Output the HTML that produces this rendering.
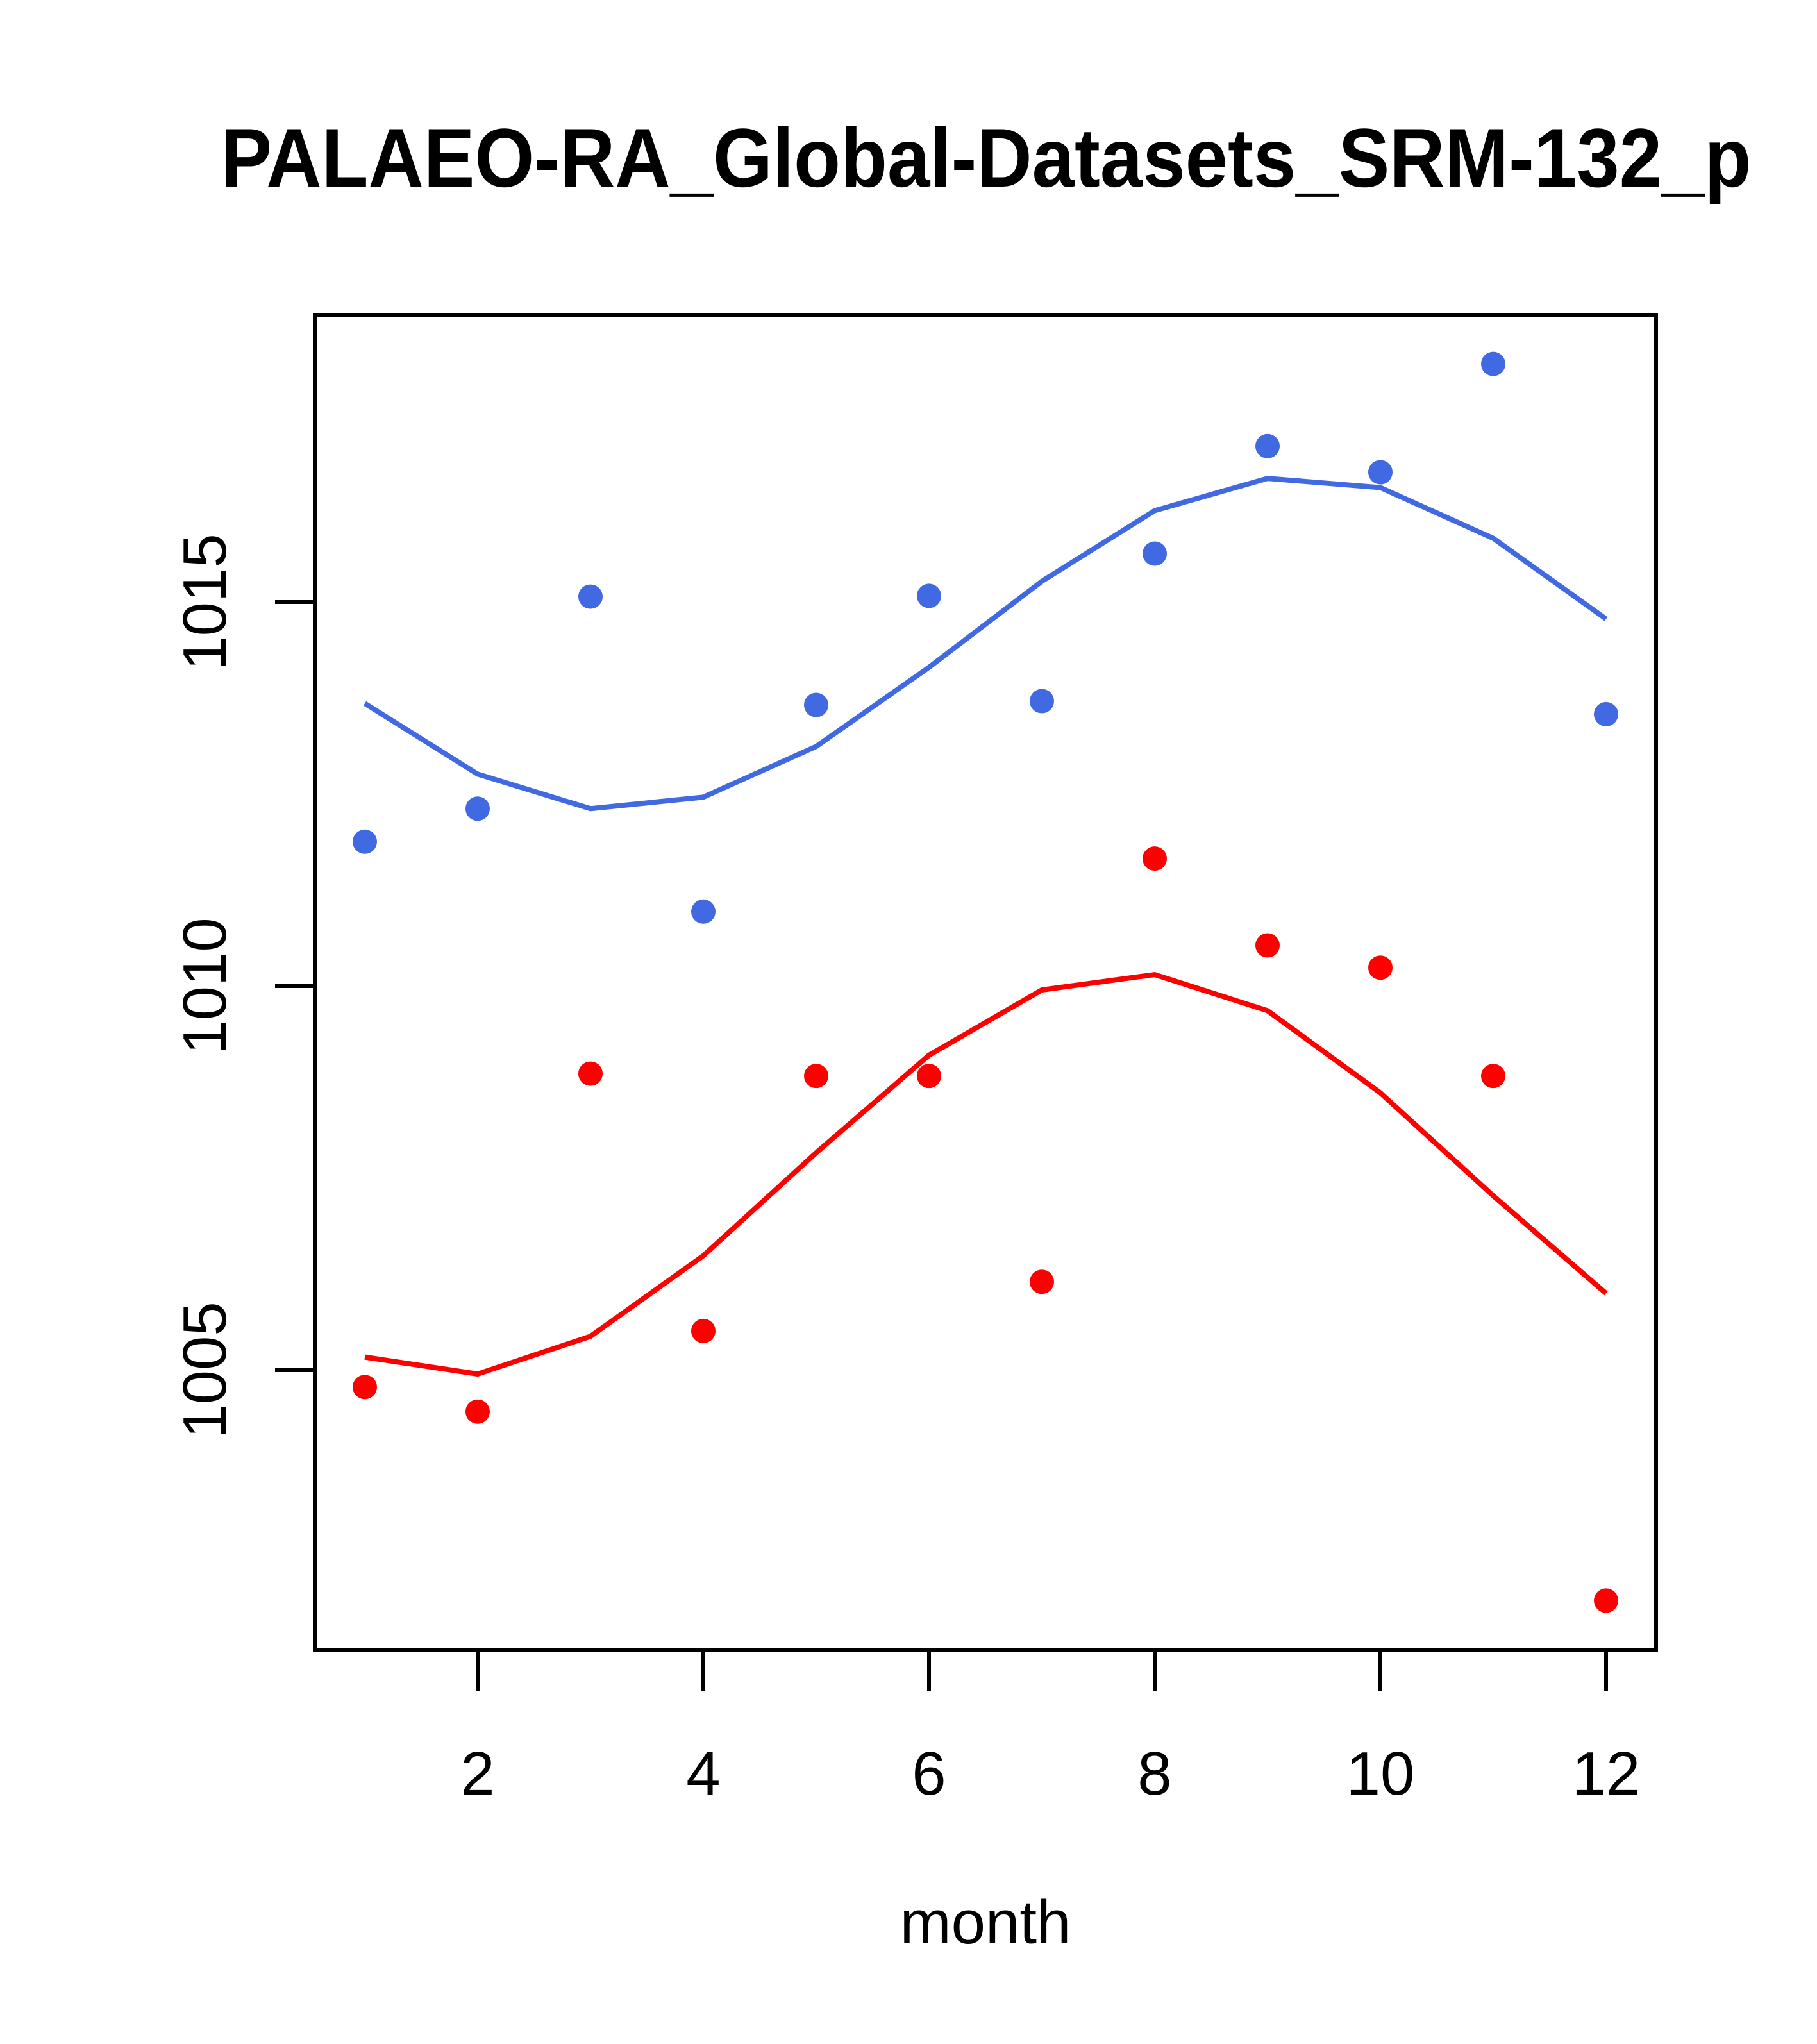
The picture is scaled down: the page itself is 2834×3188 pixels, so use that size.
<!DOCTYPE html>
<html><head><meta charset="utf-8"><style>html,body{margin:0;padding:0;background:#fff}svg{display:block}</style></head>
<body>
<svg id="chart" width="2834" height="3188" xmlns="http://www.w3.org/2000/svg" font-family="Liberation Sans, Arial, sans-serif">
<rect width="2834" height="3188" fill="#fff"/>
<text x="1538" y="291" text-anchor="middle" font-size="130" font-weight="bold" textLength="2387" lengthAdjust="spacingAndGlyphs">PALAEO-RA_Global-Datasets_SRM-132_p</text>
<rect x="491" y="491" width="2092" height="2083" fill="none" stroke="#000" stroke-width="6"/>
<g id="xaxis"></g>
<g id="yaxis"></g>
<text x="1537" y="3031" text-anchor="middle" font-size="96">month</text>
<g id="marks"></g>
</svg>
<script>
const months = [1,2,3,4,5,6,7,8,9,10,11,12];
const bluePoints = [1011.88,1012.31,1015.07,1010.97,1013.66,1015.08,1013.71,1015.63,1017.03,1016.69,1018.10,1013.54];
const blueLine = [1013.68,1012.76,1012.31,1012.46,1013.12,1014.15,1015.27,1016.19,1016.61,1016.49,1015.83,1014.78];
const redPoints = [1004.78,1004.46,1008.86,1005.51,1008.83,1008.83,1006.15,1011.66,1010.53,1010.24,1008.83,1002.00];
const redLine = [1005.17,1004.95,1005.44,1006.49,1007.83,1009.10,1009.95,1010.15,1009.68,1008.61,1007.27,1006.00];
const xTicks = [2,4,6,8,10,12];
const yTicks = [1005,1010,1015];

const NS = "http://www.w3.org/2000/svg";
function xs(m){ return 569 + (m-1)*176; }
function ys(v){ return 1538 - (v-1010)*119.8; }
function mk(tag, attrs, parent){ const e=document.createElementNS(NS,tag); for(const k in attrs) e.setAttribute(k,attrs[k]); parent.appendChild(e); return e; }

const xa=document.getElementById('xaxis'), ya=document.getElementById('yaxis'), mg=document.getElementById('marks');
xTicks.forEach(t=>{
  const l=mk('line',{x1:xs(t),x2:xs(t),y1:2574,y2:2637,stroke:'#000','stroke-width':6},xa);
  
  
  const tx=mk('text',{x:xs(t),y:2799,'text-anchor':'middle','font-size':96},xa);
  tx.textContent=t;
  
  
});
yTicks.forEach(t=>{
  const l=mk('line',{x1:429,x2:491,y1:ys(t),y2:ys(t),stroke:'#000','stroke-width':6},ya);
  
  
  const tx=mk('text',{x:0,y:0,'text-anchor':'middle','font-size':96,transform:`translate(352,${ys(t)}) rotate(-90)`},ya);
  tx.textContent=t;
  
  
});
function drawLine(vals,color,name){
  const p=mk('polyline',{points:vals.map((v,i)=>xs(months[i])+','+ys(v)).join(' '),fill:'none',stroke:color,'stroke-width':8},mg);
  
  
}
function drawPts(vals,color,name){
  vals.forEach((v,i)=>{
    const c=mk('circle',{cx:xs(months[i]),cy:ys(v),r:19,fill:color},mg);
    
    
  });
}
drawLine(blueLine,'#4169e1','blue-smooth-line');
drawLine(redLine,'#ff0000','red-smooth-line');
drawPts(bluePoints,'#4169e1','blue-point');
drawPts(redPoints,'#ff0000','red-point');
</script>
</body></html>
